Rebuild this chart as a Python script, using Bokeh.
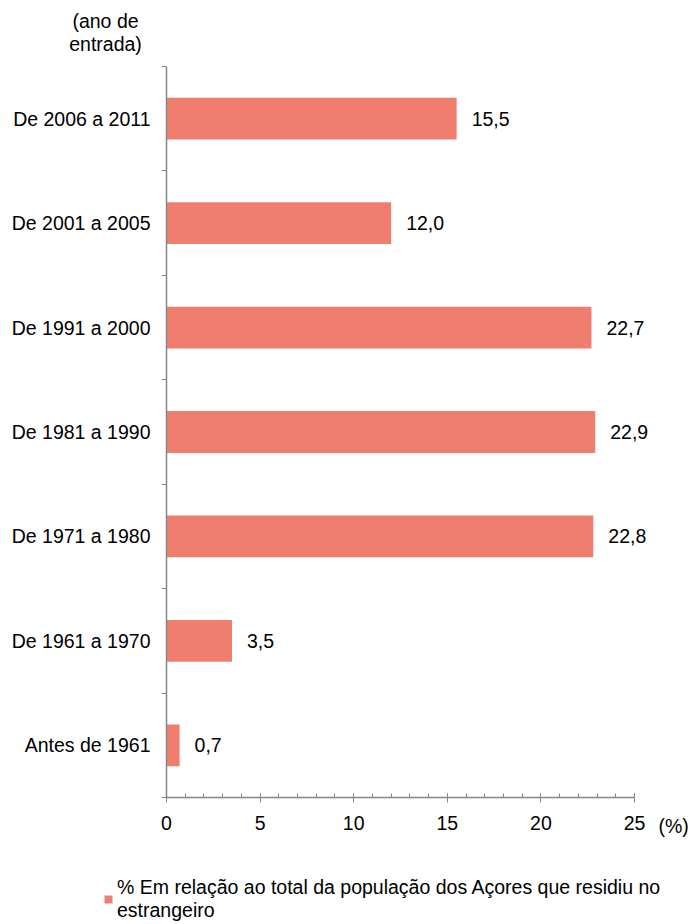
from bokeh.plotting import figure
from bokeh.models import (ColumnDataSource, Range1d, FixedTicker, LabelSet, Label,
                          Legend, LegendItem)
from bokeh.core.properties import value
from bokeh.embed import file_html
from bokeh.resources import INLINE

# Data (bottom to top)
categories = ["Antes de 1961", "De 1961 a 1970", "De 1971 a 1980", "De 1981 a 1990",
              "De 1991 a 2000", "De 2001 a 2005", "De 2006 a 2011"]
values = [0.7, 3.5, 22.8, 22.9, 22.7, 12.0, 15.5]
x_ticks = [0, 5, 10, 15, 20, 25]
series_name = "% Em relação ao total da população dos Açores que residiu no\nestrangeiro"

FONT = "Liberation Sans"
FS = "19.5px"
BAR = "#F07E6E"
AXIS = "#868686"

W, H = 692, 924
# pixel layout of the plotting area inside the page
PX_LEFT, PX_RIGHT, PX_TOP, PX_BOTTOM = 166, 634, 66, 797
XMAX = x_ticks[-1]
NCAT = len(categories)
sx = (PX_RIGHT - PX_LEFT) / XMAX
sy = (PX_BOTTOM - PX_TOP) / NCAT
x_range = Range1d(-PX_LEFT / sx, (W - PX_LEFT) / sx)
y_range = Range1d(-(H - PX_BOTTOM) / sy, NCAT + PX_TOP / sy)

ypos = [i + 0.5 for i in range(NCAT)]
labels = [f"{v:.1f}".replace(".", ",") for v in values]
src = ColumnDataSource(dict(y=ypos, v=values, lab=labels, cat=categories))

p = figure(width=W, height=H, output_backend="svg", toolbar_location=None,
           x_range=x_range, y_range=y_range, min_border=0)
p.outline_line_color = None
p.grid.visible = False
p.background_fill_color = "white"
p.border_fill_color = "white"

r = p.hbar(y="y", right="v", left=0, height=0.4, source=src,
           fill_color=BAR, line_color=None)

# Value labels
p.add_layout(LabelSet(x="v", y="y", text="lab", source=src, x_offset=15,
                      text_baseline="middle", text_align="left",
                      text_font=value(FONT), text_font_size=value(FS),
                      text_color="black"))

# X axis (drawn at y = 0)
xa = p.xaxis[0]
xa.fixed_location = 0
xa.bounds = (0, XMAX)
xa.ticker = FixedTicker(ticks=x_ticks, minor_ticks=list(range(0, XMAX + 1)))
xa.axis_line_color = AXIS
xa.axis_line_width = 1.5
xa.major_tick_line_color = AXIS
xa.minor_tick_line_color = AXIS
xa.major_tick_in = 4
xa.major_tick_out = 5
xa.minor_tick_in = 4
xa.minor_tick_out = 0
xa.major_label_standoff = 13
xa.major_label_text_font = FONT
xa.major_label_text_font_size = FS
xa.major_label_text_color = "black"

# Y axis (drawn at x = 0)
ya = p.yaxis[0]
ya.fixed_location = 0
ya.bounds = (0, NCAT)
ya.ticker = FixedTicker(ticks=ypos, minor_ticks=list(range(0, NCAT + 1)))
ya.major_label_overrides = {y: c for y, c in zip(ypos, categories)}
ya.axis_line_color = AXIS
ya.axis_line_width = 1.5
ya.major_tick_in = 0
ya.major_tick_out = 0
ya.major_tick_line_color = None
ya.minor_tick_line_color = AXIS
ya.minor_tick_in = 0
ya.minor_tick_out = 5
ya.major_label_standoff = 11
ya.major_label_text_font = FONT
ya.major_label_text_font_size = FS
ya.major_label_text_color = "black"

# Axis titles
for txt, dy in [("(ano de", 46), ("entrada)", 23)]:
    p.add_layout(Label(x=0, y=NCAT, x_offset=-61, y_offset=dy, text=txt,
                       text_align="center", text_baseline="middle",
                       text_font=FONT, text_font_size=FS, text_color="black"))
p.add_layout(Label(x=XMAX, y=0, x_offset=24, y_offset=-28, text="(%)",
                   text_align="left", text_baseline="middle",
                   text_font=FONT, text_font_size=FS, text_color="black"))

legend = Legend(items=[LegendItem(label=series_name, renderers=[r])],
                location=(103, 2), orientation="vertical",
                glyph_width=10, glyph_height=10, label_standoff=4,
                padding=0, margin=0, spacing=0,
                border_line_color=None, background_fill_alpha=0,
                label_text_font=FONT, label_text_font_size=FS,
                label_text_color="black", label_text_line_height=1.0)
p.add_layout(legend, "center")

open("out.html", "w").write(file_html(p, INLINE))
